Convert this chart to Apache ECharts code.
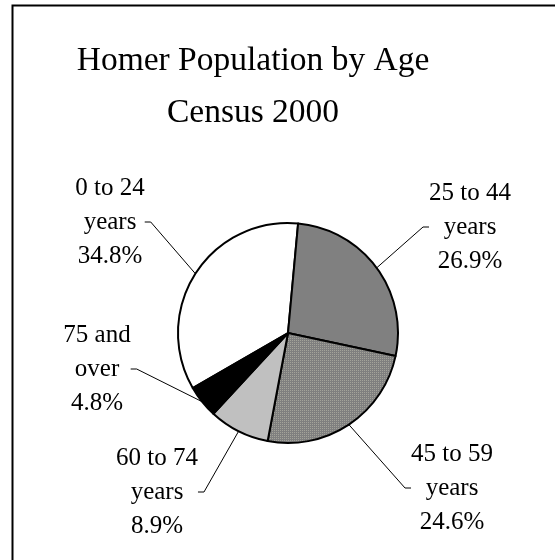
<!DOCTYPE html>
<html>
<head>
<meta charset="utf-8">
<script src="https://cdn.jsdelivr.net/npm/echarts@6/dist/echarts.min.js"></script>
<style>
html,body{margin:0;padding:0;background:#fff;}
#chart{width:555px;height:560px;}
</style>
</head>
<body>
<div id="chart"></div>
<script>
// ---- data ----
var titleLines = ['Homer Population by Age', 'Census 2000'];
var categories = ['0 to 24\nyears', '25 to 44\nyears', '45 to 59\nyears', '60 to 74\nyears', '75 and\nover'];
var percents = [34.8, 26.9, 24.6, 8.9, 4.8];

// ---- styling / layout (not data) ----
var labelPos = [[110, 222], [470, 227], [452, 488], [157, 492], [97, 369]];
var FONT = '"Liberation Serif", "Times New Roman", serif';

function dotPattern() {
  var c = document.createElement('canvas');
  c.width = 2; c.height = 2;
  var g = c.getContext('2d');
  g.fillStyle = '#7f7f7f'; g.fillRect(0, 0, 2, 2);
  g.fillStyle = '#a3a39a'; g.fillRect(0, 0, 1, 1);
  return c;
}
var fills = ['#ffffff', '#808080', {image: dotPattern(), repeat: 'repeat'}, '#c0c0c0', '#000000'];

var chart = echarts.init(document.getElementById('chart'), null, {renderer: 'canvas'});
chart.setOption({
  backgroundColor: '#ffffff',
  animation: false,
  title: {
    text: titleLines.join('\n'),
    left: 248, top: 30, textAlign: 'center',
    textStyle: {fontFamily: FONT, fontSize: 33.5, fontWeight: 'normal', color: '#000', lineHeight: 52}
  },
  graphic: [{
    type: 'rect', shape: {x: 12.5, y: 5.5, width: 700, height: 700},
    style: {fill: 'none', stroke: '#000', lineWidth: 2}, silent: true, z: -1
  }],
  series: [{
    type: 'pie',
    center: [288, 333],
    radius: 110,
    startAngle: 210,
    clockwise: true,
    data: categories.map(function (n, i) {
      return {name: n, value: percents[i], itemStyle: {color: fills[i]}};
    }),
    itemStyle: {borderColor: '#000', borderWidth: 2},
    label: {
      show: true, position: 'outside',
      fontFamily: FONT, fontSize: 25, color: '#000', lineHeight: 34, align: 'center',
      formatter: function (p) { return p.name + '\n' + p.value.toFixed(1) + '%'; }
    },
    labelLine: {show: true, length: 20, length2: 6, lineStyle: {color: '#000', width: 1}},
    labelLayout: function (p) {
      var q = labelPos[p.dataIndex];
      return {x: q[0], y: q[1], align: 'center', verticalAlign: 'middle'};
    },
    emphasis: {disabled: true}
  }]
});
</script>
</body>
</html>
